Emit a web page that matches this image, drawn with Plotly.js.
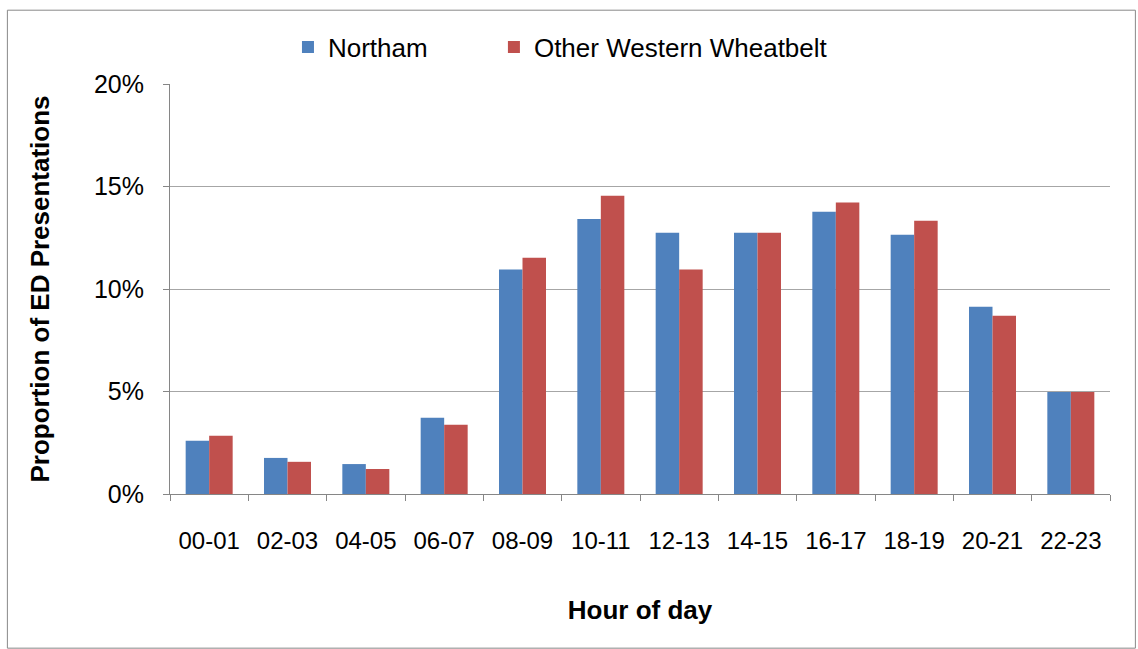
<!DOCTYPE html>
<html><head><meta charset="utf-8">
<script src="https://cdn.plot.ly/plotly-3.0.1.min.js"></script>
<style>html,body{margin:0;padding:0;background:#fff}#chart{width:1138px;height:649px}</style>
</head><body><div id="chart"></div>
<script>
const hours = ["00-01","02-03","04-05","06-07","08-09","10-11","12-13","14-15","16-17","18-19","20-21","22-23"];
const northam = [2.6, 1.76, 1.46, 3.72, 10.95, 13.42, 12.75, 12.75, 13.77, 12.65, 9.13, 4.97];
const otherWheatbelt = [2.84, 1.57, 1.22, 3.38, 11.53, 14.55, 10.95, 12.75, 14.22, 13.33, 8.7, 4.97];
const seriesNames = ["Northam", "Other Western Wheatbelt"];
const yTicks = [0, 5, 10, 15, 20];
const yTickText = yTicks.map(v => v + "%");

const FONT = "Liberation Sans, Arial, sans-serif";
const traces = [
  {type:"bar", name:seriesNames[0], x:hours, y:northam, marker:{color:"#4F81BD"}, legend:"legend"},
  {type:"bar", name:seriesNames[1], x:hours, y:otherWheatbelt, marker:{color:"#C0504D"}, legend:"legend2"}
];
const legendBase = {orientation:"h", yanchor:"middle", y:1.09, xanchor:"left",
                    font:{size:26, family:FONT, color:"#000"}, itemwidth:30, bgcolor:"rgba(0,0,0,0)"};
const layout = {
  width:1138, height:649,
  margin:{l:170, r:28, t:84, b:155},
  paper_bgcolor:"#fff", plot_bgcolor:"#fff",
  font:{family:FONT, size:24, color:"#000"},
  barmode:"group", bargap:0.4, bargroupgap:0,
  showlegend:true,
  legend:Object.assign({}, legendBase, {x:0.1255}),
  legend2:Object.assign({}, legendBase, {x:0.3446}),
  xaxis:{type:"category", showline:true, linecolor:"#868686", linewidth:1,
         ticks:"outside", ticklen:6, tickcolor:"#868686", tickson:"boundaries",
         ticklabelstandoff:25, tickfont:{size:24},
         title:{text:"<b>Hour of day</b>", font:{size:26}, standoff:48}},
  yaxis:{range:[0,20], tickvals:yTicks, ticktext:yTickText, showgrid:true, gridcolor:"#A6A6A6",
         zeroline:false, showline:true, linecolor:"#868686", ticks:"outside", ticklen:6,
         tickcolor:"#868686", ticklabelstandoff:14, tickfont:{size:25},
         title:{text:"<b>Proportion of ED Presentations</b>", font:{size:26}, standoff:36}},
  shapes:[{type:"rect", xref:"paper", yref:"paper", x0:-0.173, x1:1.027, y0:-0.376, y1:1.18,
           line:{color:"#888", width:1}, fillcolor:"rgba(0,0,0,0)", layer:"below"}]
};
Plotly.newPlot("chart", traces, layout, {displayModeBar:false, staticPlot:true});
</script></body></html>
